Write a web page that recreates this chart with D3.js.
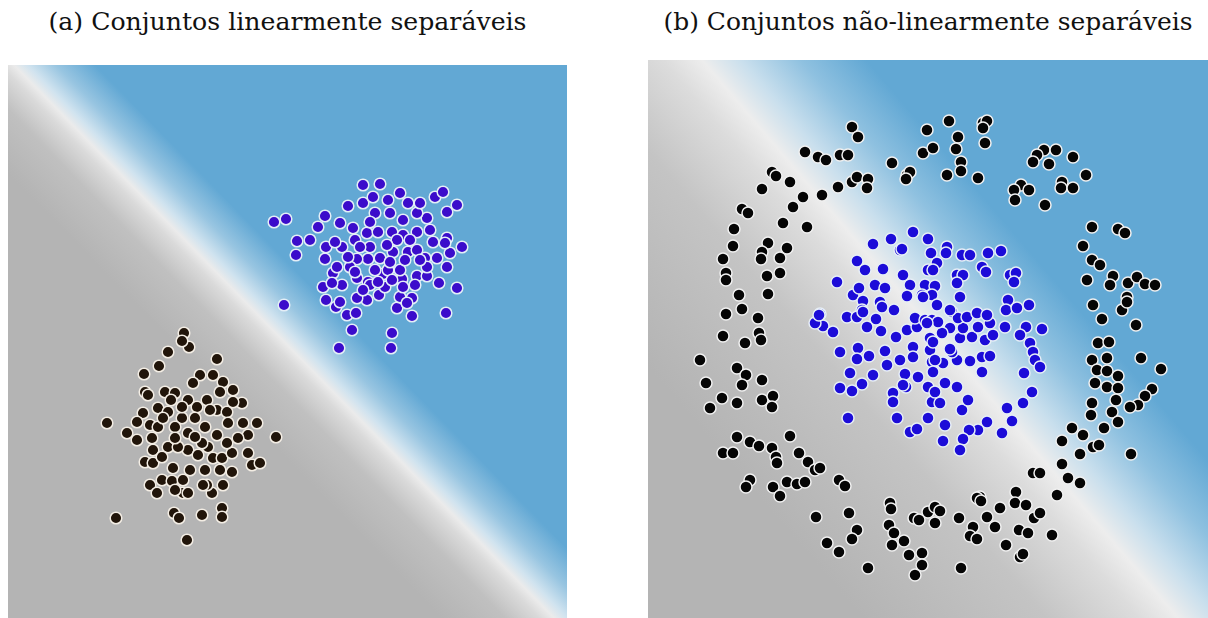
<!DOCTYPE html>
<html>
<head>
<meta charset="utf-8">
<script src="https://cdn.jsdelivr.net/npm/d3@7"></script>
<style>
  body { margin: 0; background: #fff; }
</style>
</head>
<body>
<div id="chart"></div>
<script>
// Panel titles
const titles = [
  "(a) Conjuntos linearmente separáveis",
  "(b) Conjuntos não-linearmente separáveis"
];

// Panel (a): two gaussian blobs, [x, y] in feature space
const blueA = [
  [26.6,39.6],[27.8,39.9],[28.9,37.7],[30.2,37.8],[28.8,36.3],[31.7,40.2],[31.0,39.1],[31.8,37.1],
  [31.7,35.9],[32.5,34.5],[31.5,33.1],[31.8,31.8],[32.8,31.1],[33.9,30.3],[34.8,30.5],[27.6,31.3],
  [34.4,28.8],[33.1,27.0],[38.4,28.5],[38.3,27.0],[38.9,31.0],[40.4,30.2],[40.4,32.0],[39.2,32.1],
  [37.1,32.3],[35.9,31.8],[34.9,32.0],[33.4,33.3],[34.9,34.0],[36.0,33.6],[37.5,34.4],[39.4,33.9],
  [40.9,34.2],[41.9,34.2],[43.1,33.5],[44.9,33.0],[43.8,30.5],[43.9,35.1],[44.2,36.5],[45.4,37.1],
  [43.9,38.0],[42.2,38.8],[42.5,37.6],[41.7,36.0],[40.0,36.6],[38.5,36.6],[37.2,36.0],[36.0,35.9],
  [34.9,35.9],[34.2,35.1],[32.9,35.1],[33.4,37.1],[34.7,37.8],[35.9,38.5],[37.0,38.6],[38.4,38.6],
  [39.5,38.3],[40.9,38.6],[41.9,40.0],[40.9,40.5],[39.5,39.8],[38.2,40.5],[36.7,40.5],[36.2,39.6],
  [34.5,39.0],[34.0,41.2],[35.5,41.5],[36.5,42.1],[38.0,41.8],[39.2,42.5],[40.0,41.5],[41.2,41.5],
  [35.5,43.3],[37.2,43.4],[42.7,42.1],[43.5,42.6],[43.9,40.6],[44.9,41.3],[33.2,39.5],[32.7,37.6],
  [38.9,37.8],[40.2,37.8],[36.2,37.1],[37.9,37.3],[40.9,36.8],[39.2,34.8],[38.0,34.8],[36.7,34.8],
  [36.2,33.3],[37.7,33.1],[39.5,33.1],[40.7,33.3],[41.9,35.1],[42.9,36.0],[43.7,37.5],[41.2,35.8],
  [39.7,35.8],[38.2,35.6],[35.2,37.1],[34.0,36.1],[32.4,33.5],[33.2,31.6],[34.7,34.6],[39.9,31.5],
  [35.5,32.8],[37.0,33.6],[38.4,33.8]
];
const darkA = [
  [17.6,28.5],[18.1,27.1],[17.4,27.7],[16.0,26.6],[15.1,25.2],[13.6,24.4],[20.9,25.9],[9.9,19.5],
  [26.8,18.1],[10.8,10.0],[16.6,10.5],[17.1,10.0],[19.4,10.3],[21.4,11.0],[21.4,10.1],[17.9,7.8],
  [14.2,13.3],[14.9,12.5],[20.4,12.5],[19.9,13.3],[24.9,19.5],[24.0,18.3],[24.4,15.3],[25.2,15.5],
  [24.0,16.5],[23.4,21.5],[22.5,22.8],[21.5,23.6],[20.5,24.3],[19.2,24.3],[18.5,23.5],[13.7,22.6],
  [14.0,22.3],[15.7,22.6],[16.7,22.5],[16.3,21.8],[15.0,21.0],[13.5,20.5],[12.9,19.6],[11.9,18.5],
  [12.9,17.8],[14.4,18.0],[14.2,19.3],[15.0,19.1],[16.0,20.6],[17.4,20.0],[18.0,21.8],[18.9,21.1],
  [19.9,21.8],[21.2,22.6],[20.9,20.8],[21.9,20.6],[22.5,21.6],[23.5,19.5],[22.0,19.5],[20.9,18.3],
  [19.7,19.1],[18.7,20.0],[18.0,18.5],[16.7,19.1],[16.0,17.1],[14.5,16.8],[13.7,15.6],[14.5,15.5],
  [15.4,16.1],[16.5,15.0],[15.4,13.8],[16.4,13.7],[17.5,13.8],[18.2,14.8],[18.0,16.8],[19.0,16.3],
  [20.0,17.1],[20.5,16.0],[19.7,14.8],[21.2,14.8],[22.4,14.6],[21.4,16.0],[22.4,16.5],[23.0,18.0],
  [21.9,17.5],[17.0,17.1],[16.7,18.0],[19.4,17.5],[17.5,12.5],[18.0,12.5],[16.7,12.8],[19.5,13.3],
  [21.5,13.3],[20.2,20.8],[18.7,18.1],[17.4,21.1],[15.5,20.0]
];

// Panel (b): inner disc and outer ring
const blueB = [
  [22.5,37.4],[24.3,37.9],[25.2,36.8],[26.5,38.6],[28.0,37.9],[20.9,35.7],[21.7,34.8],[23.5,34.9],
  [25.5,34.3],[18.9,33.6],[22.7,33.3],[23.7,33.0],[26.2,33.3],[27.7,33.3],[28.0,34.8],[28.3,36.5],
  [20.5,32.3],[25.9,32.2],[25.4,36.9],[29.9,37.1],[29.8,36.5],[31.4,36.3],[32.2,36.3],[34.0,36.5],
  [35.3,36.7],[33.4,35.1],[33.8,34.6],[28.9,35.5],[30.9,34.3],[31.5,34.3],[30.9,33.5],[36.2,34.3],
  [36.8,34.5],[36.6,33.6],[28.7,33.2],[27.4,32.3],[28.4,32.3],[31.2,32.1],[21.1,33.0],[27.5,32.1],
  [21.5,31.7],[23.2,31.6],[21.4,30.8],[23.4,31.1],[24.6,30.8],[19.9,30.1],[20.9,30.1],[22.8,29.9],
  [17.2,30.4],[17.5,29.2],[18.5,28.6],[16.7,29.5],[21.9,29.1],[23.3,28.7],[24.8,28.1],[25.9,28.8],
  [26.9,29.1],[26.7,30.0],[27.7,29.8],[19.2,26.6],[21.0,27.0],[20.9,25.9],[22.1,26.2],[23.7,26.7],
  [23.9,25.3],[25.2,25.8],[26.5,27.1],[28.2,28.0],[28.2,26.8],[20.2,24.5],[22.5,24.3],[21.4,23.4],
  [19.2,23.0],[20.4,22.7],[25.7,24.4],[27.0,24.1],[25.8,23.1],[24.5,22.5],[24.5,21.6],[20.0,20.0],
  [24.9,20.0],[26.2,18.6],[26.9,18.9],[28.0,20.0],[28.4,21.6],[28.0,23.1],[28.4,25.6],[26.5,26.1],
  [36.0,31.8],[35.8,30.8],[36.9,31.0],[38.1,31.3],[35.7,29.1],[37.8,29.1],[39.4,28.9],[37.2,28.3],
  [38.2,27.5],[38.5,26.6],[38.7,25.8],[39.2,25.1],[37.6,24.5],[38.4,22.6],[37.5,21.5],[35.9,21.0],
  [36.4,19.7],[35.4,18.5],[33.9,19.6],[33.0,18.8],[32.1,18.8],[31.5,17.9],[31.2,16.8],[29.5,17.7],
  [29.7,19.3],[31.4,20.8],[32.0,21.8],[30.9,23.1],[29.7,23.5],[28.7,22.6],[29.2,21.5],[33.4,24.6],
  [32.2,25.7],[33.4,26.1],[34.2,26.2],[30.9,25.8],[29.5,25.5],[30.4,26.6],[28.7,25.8],[31.2,28.0],
  [32.4,28.1],[33.7,27.8],[34.5,28.3],[34.2,29.5],[33.0,29.1],[31.5,29.0],[30.2,29.0],[29.4,28.5],
  [28.5,27.6],[28.4,29.8],[29.0,29.6],[30.4,30.6],[31.0,30.0],[31.9,30.1],[32.9,30.5],[33.9,30.3],
  [28.9,31.3],[30.2,30.8],[28.5,34.8],[30.2,26.9],[17.1,30.3],[21.5,30.6],[27.9,29.5],[28.5,24.6],
  [25.5,23.3]
];
const darkB = [
  [20.4,49.1],[21.0,48.1],[15.7,46.6],[17.0,46.1],[17.8,45.8],[19.2,46.3],[20.0,46.3],[27.9,48.8],
  [27.5,46.5],[28.5,47.0],[24.4,45.5],[25.9,44.3],[26.2,44.6],[12.4,44.6],[12.8,44.2],[14.2,43.6],
  [11.4,42.9],[15.5,42.1],[17.4,42.3],[19.0,43.1],[20.4,43.6],[20.9,44.1],[22.0,43.9],[21.9,43.0],
  [14.5,41.1],[9.4,40.9],[10.0,40.5],[13.5,39.5],[15.9,39.1],[8.6,38.9],[8.5,37.2],[12.0,37.5],
  [13.9,37.0],[11.4,36.6],[11.3,35.9],[13.2,36.0],[7.5,35.9],[7.8,34.5],[7.8,33.8],[13.2,34.5],
  [11.9,34.2],[9.1,32.3],[12.0,32.4],[30.1,49.7],[33.5,49.5],[33.9,49.7],[33.5,49.0],[33.7,47.5],
  [31.0,48.1],[30.8,46.9],[31.3,45.6],[31.3,44.7],[29.9,44.3],[33.0,44.0],[25.8,43.9],[39.6,46.8],
  [40.8,46.8],[38.9,46.3],[38.5,45.6],[40.1,45.4],[42.5,46.1],[43.8,44.3],[37.3,43.3],[36.6,42.8],
  [38.1,42.8],[36.7,41.8],[41.4,43.6],[41.3,43.0],[42.5,43.0],[39.7,41.3],[44.4,39.1],[47.0,38.9],
  [47.7,38.5],[43.5,37.2],[44.4,35.8],[45.2,35.3],[43.9,33.8],[46.5,34.2],[46.2,33.3],[48.0,33.5],
  [48.9,34.1],[49.7,33.4],[50.7,33.3],[47.9,32.1],[7.8,30.4],[9.4,30.9],[11.0,30.0],[7.5,28.2],
  [9.7,27.5],[11.1,28.5],[11.3,27.8],[5.2,25.8],[8.9,25.0],[9.8,24.3],[11.4,23.8],[5.8,23.5],
  [9.4,23.3],[7.4,22.0],[8.9,21.5],[6.2,21.0],[11.4,21.8],[12.5,22.2],[12.4,21.1],[8.9,18.1],
  [10.2,17.6],[11.1,17.2],[14.2,18.2],[7.5,16.5],[8.5,16.5],[12.4,17.0],[12.8,16.1],[12.9,15.5],
  [15.1,16.5],[16.0,15.6],[16.7,14.8],[17.2,15.0],[10.2,13.8],[9.8,13.1],[12.5,13.1],[13.9,13.6],
  [14.9,13.4],[15.7,13.6],[19.1,13.8],[19.7,13.2],[13.2,12.2],[44.5,31.3],[47.4,30.8],[47.9,31.6],
  [45.4,29.9],[48.8,29.3],[45.0,27.5],[46.1,27.6],[44.4,25.8],[45.9,26.0],[44.9,24.8],[45.9,24.7],
  [47.0,24.2],[44.7,23.5],[45.9,23.1],[47.0,23.0],[49.3,26.0],[51.3,24.9],[50.4,22.9],[49.7,22.2],
  [49.0,21.3],[48.2,21.1],[46.8,21.8],[44.4,21.5],[44.3,20.3],[46.4,20.6],[47.0,19.6],[45.6,19.0],
  [42.4,19.0],[43.5,18.3],[41.4,17.7],[44.5,17.1],[45.1,17.3],[43.2,16.4],[48.3,16.4],[41.4,15.4],
  [38.5,14.5],[39.2,14.5],[42.0,14.0],[43.2,13.5],[36.8,12.6],[40.9,12.3],[33.2,12.1],[16.8,10.1],
  [20.1,10.5],[20.9,8.8],[20.4,7.9],[17.9,7.5],[19.1,6.6],[22.0,5.0],[24.2,11.5],[24.3,10.9],
  [24.1,9.3],[24.6,8.5],[24.4,7.3],[25.6,7.7],[26.1,6.3],[27.4,6.5],[27.4,5.3],[26.7,4.3],
  [26.6,10.0],[27.1,9.8],[28.0,10.6],[28.7,11.1],[29.2,10.7],[28.7,9.5],[31.1,10.0],[31.3,5.0],
  [32.5,9.1],[32.2,8.2],[32.9,7.9],[32.9,12.0],[33.3,11.7],[33.9,10.1],[34.7,9.1],[35.2,11.0],
  [36.7,11.5],[37.8,11.3],[35.8,7.3],[37.1,8.8],[38.0,8.5],[37.2,6.1],[37.5,6.4],[38.6,10.0],
  [39.2,10.5],[40.4,8.3]
];

// Decision boundary of each classifier: two points on the line
const boundaryA = [[0.6, 55.3], [54.6, 0]];
const boundaryB = [[5.4, 55.8], [53.0, 0]];

const width = 1208, height = 618;

const panels = [
  {
    title: titles[0], left: 8, right: 567, top: 65, bottom: 618,
    xDomain: [0, 55.9], yDomain: [0, 55.3], boundary: boundaryA,
    // signed distance from boundary (px, + on blue side) -> colour
    stops: [[-80, "#b4b4b4"], [-35, "#c0c0c0"], [-10, "#dadada"], [0, "#ebebeb"],
            [10, "#d0e3ef"], [30, "#98c5e1"], [58, "#62a8d4"]],
    r: 5.8, titleLen: 478,
    sets: [
      { data: darkA, fill: "#21150a", stroke: "#f3ede4" },
      { data: blueA, fill: "#3b0ccb", stroke: "#e4eef7" }
    ]
  },
  {
    title: titles[1], left: 648, right: 1208, top: 60, bottom: 618,
    xDomain: [0, 56], yDomain: [0, 55.8], boundary: boundaryB,
    stops: [[-240, "#b4b4b4"], [-100, "#c4c4c4"], [-30, "#dcdcdc"], [0, "#ededed"],
            [30, "#c9dfed"], [75, "#8fc1e0"], [125, "#62a8d4"]],
    r: 6, titleLen: 529,
    sets: [
      { data: darkB, fill: "#050505", stroke: "#f0f0f0" },
      { data: blueB, fill: "#1c0cd8", stroke: "#e6eef6" }
    ]
  }
];

const svg = d3
  .select("#chart")
  .append("svg")
  .attr("width", width)
  .attr("height", height);

const defs = svg.append("defs");

panels.forEach((p, i) => {
  const x = d3.scaleLinear().domain(p.xDomain).range([p.left, p.right]);
  const y = d3.scaleLinear().domain(p.yDomain).range([p.bottom, p.top]);

  // gradient running across the boundary line
  const p1 = [x(p.boundary[0][0]), y(p.boundary[0][1])];
  const p2 = [x(p.boundary[1][0]), y(p.boundary[1][1])];
  const len = Math.hypot(p2[0] - p1[0], p2[1] - p1[1]);
  const n = [(p2[1] - p1[1]) / len, -(p2[0] - p1[0]) / len];
  const mid = [(p1[0] + p2[0]) / 2, (p1[1] + p2[1]) / 2];
  const W = 700;

  const grad = defs
    .append("linearGradient")
    .attr("id", "bg" + i)
    .attr("gradientUnits", "userSpaceOnUse")
    .attr("x1", mid[0] - n[0] * W)
    .attr("y1", mid[1] - n[1] * W)
    .attr("x2", mid[0] + n[0] * W)
    .attr("y2", mid[1] + n[1] * W);
  grad
    .selectAll("stop")
    .data(p.stops)
    .enter()
    .append("stop")
    .attr("offset", (d) => (d[0] + W) / (2 * W))
    .attr("stop-color", (d) => d[1]);

  svg
    .append("rect")
    .attr("x", p.left)
    .attr("y", p.top)
    .attr("width", p.right - p.left)
    .attr("height", p.bottom - p.top)
    .attr("fill", `url(#bg${i})`);

  const g = svg.append("g");
  p.sets.forEach((s) => {
    g.append("g")
      .selectAll("circle")
      .data(s.data)
      .enter()
      .append("circle")
      .attr("cx", (d) => x(d[0]))
      .attr("cy", (d) => y(d[1]))
      .attr("r", p.r)
      .attr("fill", s.fill)
      .attr("stroke", s.stroke)
      .attr("stroke-width", 1.5);
  });

  svg
    .append("text")
    .attr("x", (p.left + p.right) / 2)
    .attr("y", 30)
    .attr("text-anchor", "middle")
    .attr("textLength", p.titleLen)
    .attr("lengthAdjust", "spacingAndGlyphs")
    .style("font-family", "'DejaVu Serif', 'Liberation Serif', serif")
    .style("font-size", "24px")
    .style("fill", "#111")
    .text(p.title);
});
</script>
</body>
</html>
